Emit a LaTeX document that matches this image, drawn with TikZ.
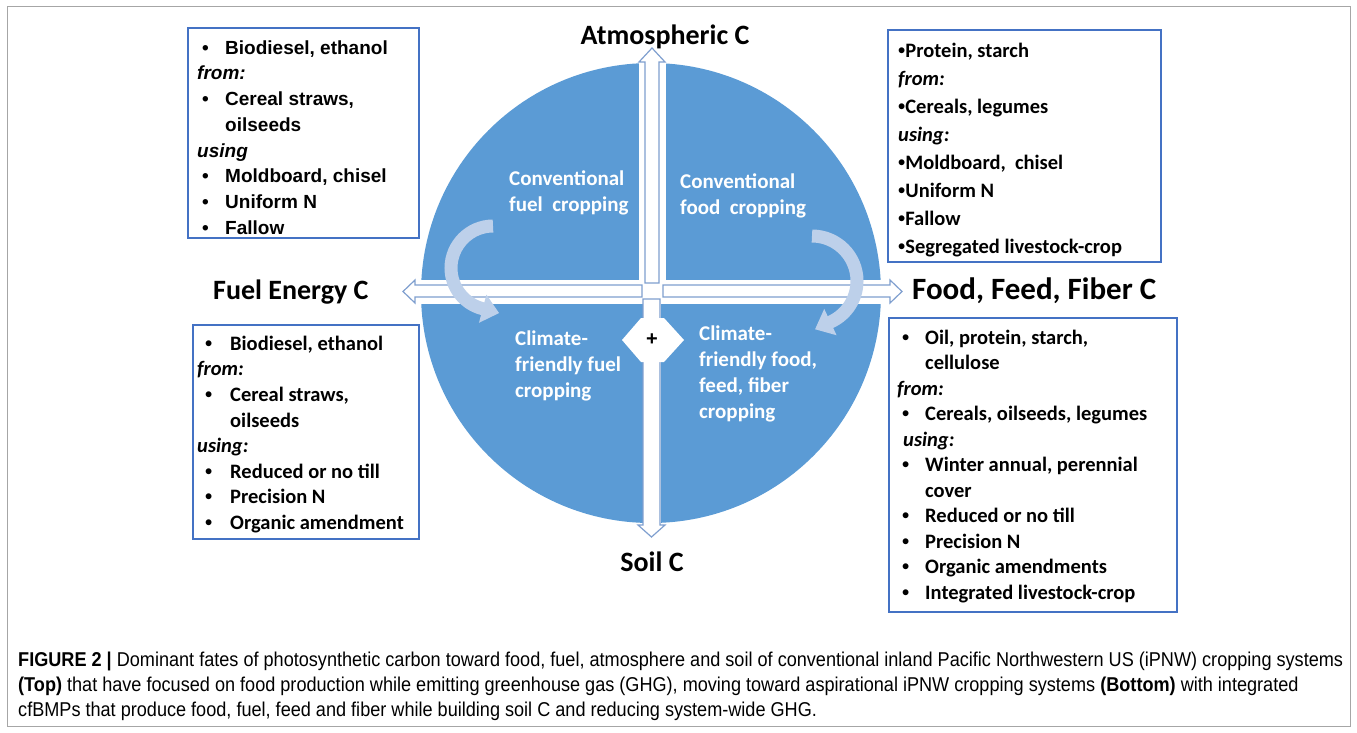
\documentclass[tikz,border=0pt]{standalone}
\usepackage{fontspec}
\setmainfont{Carlito}
\newfontfamily\arialf{Liberation Sans}
\newfontfamily\calf{Carlito}
\newfontfamily\capf[FakeStretch=0.905]{Liberation Sans}
\usetikzlibrary{arrows.meta}
\definecolor{circblue}{HTML}{5B9BD5}
\definecolor{boxblue}{HTML}{4472C4}
\definecolor{arrline}{HTML}{7F9FCF}
\definecolor{curvc}{HTML}{BDD0EA}
\newcommand{\bul}[1]{\makebox[#1][l]{{\arialf •}}}
\newcommand{\sbul}{{\arialf •}}
\tikzset{
  mtext/.style={anchor=north west, inner sep=0pt, align=left},
  wtext/.style={mtext, text=white, font=\calf\bfseries\fontsize{21}{26}\selectfont},
  lab/.style={inner sep=0pt, font=\calf\bfseries\fontsize{28}{32}\selectfont},
  blockarrow/.style={fill=white, draw=arrline, line width=1.2pt, line join=miter},
  boxframe/.style={draw=boxblue, line width=2pt},
  curved/.style={curvc, line width=13pt, -{Triangle[length=17pt,width=28pt]}},
  captext/.style={anchor=base west, inner sep=0pt, font=\capf\fontsize{20}{25}\selectfont}
}
\begin{document}
\begin{tikzpicture}[x=1pt,y=-1pt]
\useasboundingbox (0,0) rectangle (1357,732);
\draw[gray!70, line width=1pt] (7,6) rectangle (1350,726);
% circle with quadrant gaps
\fill[circblue] (651,293) circle (230);
\fill[white] (639,50) rectangle (666,283);
\fill[white] (643,299) rectangle (661,530);
\fill[white] (405,280) rectangle (900,304);
% block arrows
\draw[blockarrow] (645,283) -- (645,62) -- (639,62) -- (652,48) -- (665,62) -- (659,62) -- (659,283) -- cycle;
\draw[blockarrow] (643,299) -- (643,525) -- (638,525) -- (651.5,537) -- (665,525) -- (660,525) -- (660,299) -- cycle;
\draw[blockarrow] (642,285) -- (415,285) -- (415,280) -- (403,291.5) -- (415,303) -- (415,297) -- (642,297) -- cycle;
\draw[blockarrow] (663,285) -- (890,285) -- (890,280) -- (902,291.5) -- (890,303) -- (890,297) -- (663,297) -- cycle;
% central double arrow with plus
\fill[white] (622,340) -- (641,318) -- (664,318) -- (684,340) -- (664,362) -- (641,362) -- cycle;
\node[inner sep=0pt, font=\arialf\bfseries\fontsize{20}{22}\selectfont] (plus) at (652,340) {+};
% curved arrows
\draw[curved] (493,226) arc[start angle=-90, end angle=-255, radius=42] -- ++(17,4.5);
\draw[curved] (812,236) arc[start angle=-90, end angle=65, radius=45] -- ++(-16,7.5);
% quadrant texts
\node[wtext] (convfuel) at (509,165) {\rule{0pt}{20pt}Conventional\\fuel\ \ cropping};
\node[wtext] (convfood) at (680,168) {\rule{0pt}{20pt}Conventional\\food\ \ cropping};
\node[wtext] (cffuel) at (515,325) {\rule{0pt}{20pt}Climate-\\friendly fuel\\cropping};
\node[wtext] (cffood) at (699,320) {\rule{0pt}{20pt}Climate-\\friendly food,\\feed, fiber\\cropping};
% labels
\node[lab, anchor=base] (atm) at (665,44) {Atmospheric C};
\node[lab, anchor=base west] (fuelC) at (213,299) {Fuel Energy C};
\node[lab, anchor=base west, font=\calf\bfseries\fontsize{31}{34}\selectfont] (foodC) at (912,299) {Food, Feed, Fiber C};
\node[lab, anchor=base] (soilC) at (652,571) {Soil C};
% boxes
\draw[boxframe] (188,28) rectangle (419,238);
\node[mtext, font=\arialf\bfseries\fontsize{19}{25.7}\selectfont] (tlbox) at (197,34) {\rule{0pt}{20pt}\hspace*{5pt}\bul{23pt}Biodiesel, ethanol\\
\textit{from:}\\
\hspace*{5pt}\bul{23pt}Cereal straws,\\
\hspace*{28pt}oilseeds\\
\textit{using}\\
\hspace*{5pt}\bul{23pt}Moldboard, chisel\\
\hspace*{5pt}\bul{23pt}Uniform N\\
\hspace*{5pt}\bul{23pt}Fallow};
\draw[boxframe] (888,30) rectangle (1161,262);
\node[mtext, font=\calf\bfseries\fontsize{20.5}{28.1}\selectfont] (trbox) at (898,37) {\rule{0pt}{20pt}\sbul Protein, starch\\
\textit{from:}\\
\sbul Cereals, legumes\\
\textit{using:}\\
\sbul Moldboard,\ \ chisel\\
\sbul Uniform N\\
\sbul Fallow\\
\sbul Segregated livestock-crop};
\draw[boxframe] (193,325) rectangle (419,539);
\node[mtext, font=\calf\bfseries\fontsize{20.5}{25.6}\selectfont] (blbox) at (197,330) {\rule{0pt}{20pt}\hspace*{8pt}\bul{25pt}Biodiesel, ethanol\\
\textit{from:}\\
\hspace*{8pt}\bul{25pt}Cereal straws,\\
\hspace*{33pt}oilseeds\\
\textit{using:}\\
\hspace*{8pt}\bul{25pt}Reduced or no till\\
\hspace*{8pt}\bul{25pt}Precision N\\
\hspace*{8pt}\bul{25pt}Organic amendment};
\draw[boxframe] (889,318) rectangle (1177,612);
\node[mtext, font=\calf\bfseries\fontsize{20.5}{25.5}\selectfont] (brbox) at (897,324) {\rule{0pt}{20pt}\hspace*{5pt}\bul{23pt}Oil, protein, starch,\\
\hspace*{28pt}cellulose\\
\textit{from:}\\
\hspace*{5pt}\bul{23pt}Cereals, oilseeds, legumes\\
\hspace*{6pt}\textit{using:}\\
\hspace*{5pt}\bul{23pt}Winter annual, perennial\\
\hspace*{28pt}cover\\
\hspace*{5pt}\bul{23pt}Reduced or no till\\
\hspace*{5pt}\bul{23pt}Precision N\\
\hspace*{5pt}\bul{23pt}Organic amendments\\
\hspace*{5pt}\bul{23pt}Integrated livestock-crop};
% caption
\node[captext] (cap1) at (18,666) {\textbf{FIGURE 2 |} Dominant fates of photosynthetic carbon toward food, fuel, atmosphere and soil of conventional inland Pacific Northwestern US (iPNW) cropping systems};
\node[captext] (cap2) at (18,691) {\textbf{(Top)} that have focused on food production while emitting greenhouse gas (GHG), moving toward aspirational iPNW cropping systems \textbf{(Bottom)} with integrated};
\node[captext] (cap3) at (18,716) {cfBMPs that produce food, fuel, feed and fiber while building soil C and reducing system-wide GHG.};
\end{tikzpicture}
\end{document}
